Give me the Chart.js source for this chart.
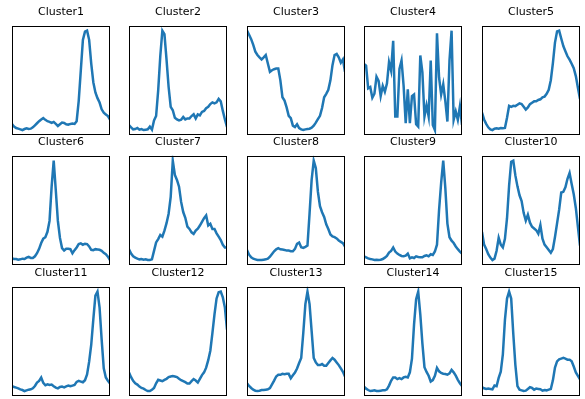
<!DOCTYPE HTML>
<html>
<head>
<meta charset="utf-8">
<title>Cluster profiles</title>
<script src="https://cdn.jsdelivr.net/npm/chart.js"></script>
<style>
    body {
        margin: 0;
        background: #fff;
    }
    .panel {
        position: absolute;
        width: 98px;
        height: 129px;
    }
</style>
</head>
<body>
<div id="grid"></div>
<script>
    // 48 half-hour slots per day
    const slots = Array.from({ length: 48 }, (_, i) => i);

    const clusterNames = ['Cluster1', 'Cluster2', 'Cluster3', 'Cluster4', 'Cluster5',
        'Cluster6', 'Cluster7', 'Cluster8', 'Cluster9', 'Cluster10',
        'Cluster11', 'Cluster12', 'Cluster13', 'Cluster14', 'Cluster15'];

    const cluster1 = [42,34,30,28,26,24,27,29,27,28,32,38,44,50,55,59,54,50,48,45,48,42,36,41,46,45,41,40,42,43,42,50,110,200,290,314,317,290,220,165,135,118,105,85,75,70,65,55];
    const cluster2 = [38,32,26,27,30,25,27,24,25,26,34,25,52,65,140,240,315,305,230,150,92,82,60,55,52,54,62,55,58,58,65,70,58,70,67,77,80,88,92,100,105,102,105,115,108,80,55,33];
    const cluster3 = [317,305,292,275,255,245,238,232,238,245,220,195,200,203,205,205,170,120,110,90,65,58,36,32,40,29,25,23,25,26,27,30,36,45,55,65,88,120,130,142,170,215,245,248,238,222,232,195];
    const cluster4 = [220,215,148,152,120,132,182,170,125,155,138,162,225,200,288,65,65,205,230,155,45,145,45,125,130,42,35,245,195,65,98,65,230,40,25,310,180,130,160,110,50,230,318,55,80,55,95,40];
    const cluster5 = [75,55,42,32,26,24,28,29,28,30,29,30,60,95,92,95,94,98,102,100,92,84,90,100,104,108,108,112,114,120,122,130,142,170,220,280,313,315,292,270,255,240,230,218,205,182,148,115];
    const cluster6 = [30,28,28,26,27,29,28,32,34,31,31,36,45,58,75,88,92,108,140,240,317,230,140,90,60,53,58,58,57,45,54,62,72,74,70,73,72,65,55,54,57,56,55,52,46,42,35,25];
    const cluster7 = [55,42,34,30,27,25,26,24,25,23,23,25,50,75,85,97,92,110,132,160,210,317,275,260,240,195,165,148,122,115,105,100,110,116,125,136,147,155,125,130,115,115,102,92,82,68,60,60];
    const cluster8 = [52,38,30,26,24,22,22,22,23,24,26,32,40,48,54,57,54,53,52,50,50,48,48,55,70,74,60,58,61,65,160,260,317,295,225,182,164,150,128,114,98,92,90,86,80,76,72,62];
    const cluster9 = [34,31,28,26,25,23,24,23,24,26,30,35,45,50,60,48,42,38,35,34,36,42,28,31,29,34,32,31,31,35,37,34,40,38,48,68,170,250,315,235,130,90,80,73,63,55,48,42];
    const cluster10 = [105,68,55,40,30,23,27,50,88,68,60,85,145,240,310,313,270,238,212,195,160,138,155,132,120,115,110,100,125,85,68,60,52,44,55,90,130,170,220,222,235,260,277,245,215,175,120,65];
    const cluster11 = [37,35,33,31,28,26,23,25,27,28,31,38,48,53,63,47,40,43,41,42,37,33,31,35,36,34,37,39,37,39,41,50,53,51,49,55,72,110,160,235,305,317,270,175,90,63,53,45];
    const cluster12 = [79,65,54,47,43,37,33,31,27,24,24,28,33,47,57,55,53,57,60,65,67,68,67,65,60,56,53,50,46,46,53,59,55,49,60,71,79,93,115,143,195,250,297,315,317,300,270,205];
    const cluster13 = [45,37,31,26,23,22,23,25,25,26,27,31,42,53,65,70,70,73,72,73,73,60,69,77,89,105,120,195,280,317,280,200,120,107,99,99,102,97,97,105,113,120,115,107,99,89,79,65];
    const cluster14 = [38,32,28,25,26,27,25,25,26,27,27,30,41,55,65,65,60,63,60,65,67,65,80,120,220,295,317,250,165,95,81,70,53,57,70,93,83,78,76,75,73,77,87,80,70,58,48,40];
    const cluster15 = [40,37,35,36,35,34,45,43,67,85,135,235,297,317,297,195,105,43,33,31,29,30,35,40,38,33,36,35,34,30,32,31,33,35,60,97,115,121,123,125,123,120,120,115,100,83,73,63];

    const clusterValues = [cluster1, cluster2, cluster3, cluster4, cluster5,
        cluster6, cluster7, cluster8, cluster9, cluster10,
        cluster11, cluster12, cluster13, cluster14, cluster15];

    // frame around each plot area
    const framePlugin = {
        id: 'frame',
        afterDatasetsDraw(chart) {
            const a = chart.chartArea;
            const ctx = chart.ctx;
            ctx.save();
            ctx.strokeStyle = '#000';
            ctx.lineWidth = 1;
            ctx.strokeRect(Math.round(a.left) + 0.5, Math.round(a.top) + 0.5,
                Math.round(a.right - a.left) - 1, Math.round(a.bottom - a.top) - 1);
            ctx.restore();
        }
    };

    const colLeft = [12, 129, 247, 364, 482];
    const rowTop = [6, 136, 267];

    function createPanel(idx, title, values) {
        const div = document.createElement('div');
        div.className = 'panel';
        div.style.left = colLeft[idx % 5] + 'px';
        div.style.top = rowTop[Math.floor(idx / 5)] + 'px';
        const canvas = document.createElement('canvas');
        div.appendChild(canvas);
        document.getElementById('grid').appendChild(div);

        const lo = Math.min(...values);
        const hi = Math.max(...values);
        const pad = (hi - lo) * 0.05;

        new Chart(canvas.getContext('2d'), {
            type: 'line',
            data: {
                labels: slots,
                datasets: [{
                    data: values,
                    borderColor: '#1f77b4',
                    borderWidth: 2.5,
                    pointRadius: 0,
                    tension: 0,
                    fill: false
                }]
            },
            options: {
                responsive: true,
                maintainAspectRatio: false,
                animation: false,
                layout: { padding: 0 },
                plugins: {
                    legend: { display: false },
                    tooltip: { enabled: false },
                    title: {
                        display: true,
                        text: title,
                        color: '#000',
                        font: { family: 'DejaVu Sans', size: 11, weight: 'normal', lineHeight: 1.2 },
                        padding: { top: 0, bottom: 6.5 }
                    }
                },
                scales: {
                    x: { display: false },
                    y: { display: false, min: lo - pad, max: hi + pad }
                }
            },
            plugins: [framePlugin]
        });
    }

    clusterNames.forEach((name, i) => createPanel(i, name, clusterValues[i]));
</script>
</body>
</html>
